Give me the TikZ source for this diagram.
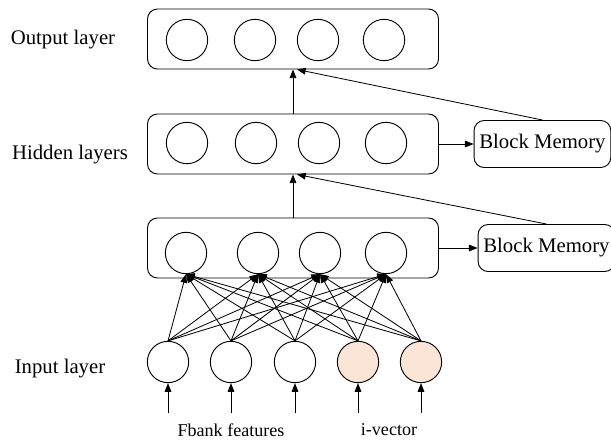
\documentclass[tikz,border=0pt]{standalone}
\usepackage{fontspec}
\setmainfont{Liberation Serif}
\usetikzlibrary{arrows.meta,positioning,calc}
\definecolor{IvecFill}{HTML}{FBE5D6}

\begin{document}
\begin{tikzpicture}[
        x=0.03cm, y=-0.03cm,
        line width=0.8pt,
        every node/.style={font=\fontsize{17.7}{20}\selectfont},
        layerbox/.style={draw,rounded corners=0.3cm,minimum width=8.73cm,minimum height=1.8cm,inner sep=0pt},
        neuron/.style={draw,circle,minimum size=1.24cm,inner sep=0pt},
        mem/.style={draw,rounded corners=0.3cm,minimum width=4.1cm,minimum height=1.41cm,inner sep=0pt},
        small/.style={font=\fontsize{15.4}{18}\selectfont},
        arr/.style={-{Triangle[length=0.26cm,width=0.2cm]},line width=0.7pt}
      ]
        \useasboundingbox (0,0) rectangle (611,439);
        % layer boxes
        \node[layerbox] (outbox) at (293,39) {};
        \node[layerbox] (hid1box) at (293,144) {};
        \node[layerbox] (hid2box) at (293,248) {};
        \node[mem,right=1.04cm of hid1box] (mem1) {Block Memory};
        \node[mem,right=1.16cm of hid2box] (mem2) {Block Memory};
        % neurons
        \foreach \x [count=\i] in {187,255,318,384}
          \node[neuron] (o\i) at (\x,40) {};
        \foreach \x [count=\i] in {187,256,319,386}
          \node[neuron] (g\i) at (\x,143) {};
        \foreach \x [count=\i] in {186,258,320,386}
          \node[neuron] (h\i) at (\x,253) {};
        \foreach \x [count=\i] in {168,231,295,358,421} {
          \ifnum\i>3
            \node[neuron,fill=IvecFill] (in\i) at (\x,362) {};
          \else
            \node[neuron] (in\i) at (\x,362) {};
          \fi
          \coordinate (src\i) at (\x,413);
        }
        % labels
        \node (outlbl) at (63,40) {Output layer};
        \node (hidlbl) at (70,155) {Hidden layers};
        \node (inlbl) at (60,369) {Input layer};
        \node[small] (fbank) at (231,430) {Fbank features};
        \node[small] (ivec) at (389,430) {i-vector};
        % connectors
        \foreach \i in {1,...,5} {
          \draw[arr] (src\i) -- (in\i);
          \foreach \j in {1,...,4}
            \draw[arr] (in\i.north) -- (h\j.south);
        }
        \coordinate (outin) at ($(outbox.south)+(4,0)$);
        \coordinate (hid1in) at ($(hid1box.south)+(4,0)$);
        \draw[arr] (hid1box.north) -- (outbox.south);
        \draw[arr] (hid2box.north) -- (hid1box.south);
        \draw[arr] (mem1.north) -- (outin);
        \draw[arr] (mem2.north) -- (hid1in);
        \draw[arr] (hid1box.east) -- (mem1.west);
        \draw[arr] (hid2box.east) -- (mem2.west);
      \end{tikzpicture}
\end{document}
